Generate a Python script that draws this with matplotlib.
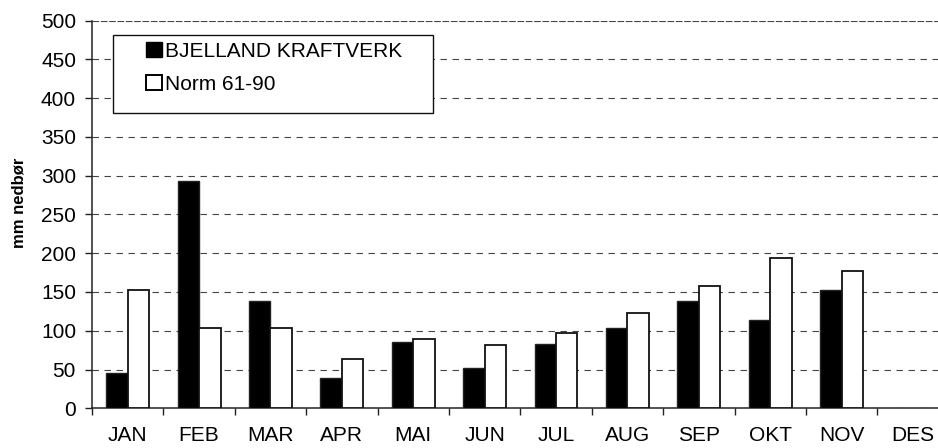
import matplotlib.pyplot as plt
import numpy as np
from matplotlib.patches import Rectangle

plt.rcParams['font.family'] = ['Liberation Sans', 'DejaVu Sans']

# Månedlig nedbør
months = ["JAN", "FEB", "MAR", "APR", "MAI", "JUN", "JUL", "AUG", "SEP", "OKT", "NOV", "DES"]
bjelland = [45, 293, 138, 39, 86, 52, 83, 104, 138, 114, 152, np.nan]
norm = [153, 104, 104, 64, 89, 82, 97, 123, 158, 194, 177, np.nan]

W, H = 938, 448
fig = plt.figure(figsize=(W / 100, H / 100), dpi=100)
# the axes runs past the right edge of the figure (cropped in the original)
ax = fig.add_axes([92 / W, (H - 408.3) / H, 856.7 / W, 387.7 / H])

x = np.arange(len(months))
w = 0.3
ax.bar(x - w / 2, bjelland, w, color="black", edgecolor="#222222", linewidth=1.0, zorder=3)
ax.bar(x + w / 2, norm, w, color="white", edgecolor="#111111", linewidth=1.3, zorder=3)

ax.set_xlim(-0.5, len(months) - 0.5)
ax.set_ylim(0, 500)
ax.set_yticks(range(0, 501, 50))
ax.yaxis.grid(True, linestyle=(0, (5.8, 5)), color="#444444", linewidth=0.8)
ax.yaxis.get_gridlines()[-1].set_dashes((6, 1.5))
ax.set_axisbelow(True)

# x ticks between categories, labels centered
ax.set_xticks(np.arange(-0.5, len(months), 1.0))
ax.set_xticklabels([])
ax.set_xticks(x, minor=True)
ax.set_xticklabels(months, minor=True)
ax.tick_params(axis="x", which="minor", length=0, pad=13, labelsize=15)
ax.tick_params(axis="x", which="major", length=5, direction="out", width=1, color="#222222")
ax.tick_params(axis="y", length=5, direction="out", labelsize=15, width=1, pad=6.5, color="#222222")

for s in ["top", "right"]:
    ax.spines[s].set_visible(False)
ax.spines["left"].set_linewidth(1.1)
ax.spines["bottom"].set_linewidth(1.1)
ax.spines["left"].set_color("#222222")
ax.spines["bottom"].set_color("#222222")

fig.text(19 / W, 1 - 203 / H, "mm nedbør", rotation=90, fontsize=12, fontweight="bold",
         ha="center", va="center")

# legend frame + entries
frame = Rectangle((113 / W, 1 - 113 / H), 320 / W, 78 / H, transform=fig.transFigure,
                  facecolor="white", edgecolor="#111111", linewidth=1.0, zorder=4)
fig.patches.append(frame)
handles = [Rectangle((0, 0), 1, 1, facecolor="black", edgecolor="black", linewidth=1.0),
           Rectangle((0, 0), 1, 1, facecolor="white", edgecolor="black", linewidth=1.4)]
leg = fig.legend(handles, ["BJELLAND KRAFTVERK", "Norm 61-90"],
                 loc="upper left", bbox_to_anchor=(146 / W, 1 - 42 / H),
                 fontsize=15, frameon=False,
                 handlelength=0.76, handleheight=0.76, handletextpad=0.15,
                 labelspacing=0.67, borderpad=0, borderaxespad=0)
leg.set_zorder(5)

fig.savefig("out.png", dpi=100)
